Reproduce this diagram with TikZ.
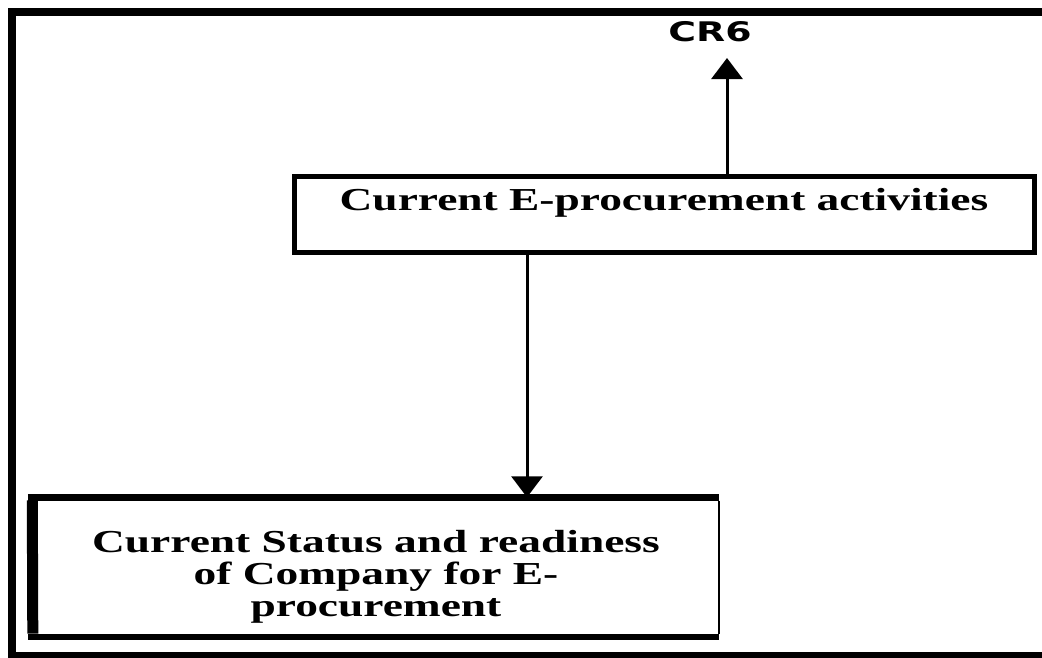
\documentclass[tikz,border=0pt]{standalone}
\usepackage{fontspec}
\usetikzlibrary{arrows.meta}
\newfontfamily\boxfont{Liberation Serif}[FakeStretch=1.42]
\newfontfamily\labelfont{DejaVu Sans}[FakeStretch=1.4]
\begin{document}
\begin{tikzpicture}[x=1pt,y=-1pt,
  boxtext/.style={font=\boxfont\bfseries\fontsize{32}{32}\selectfont, align=center, inner sep=0pt},
  arr/.style={line width=3pt, -{Triangle[width=31pt,length=21pt]}},
]
\clip (0,0) rectangle (1042,657);
\fill[white] (0,0) rectangle (1042,657);
% outer frame, running past the right and lower edges
\draw[line width=8pt] (12,12) rectangle (1080,656);

% upper box
\node[boxtext, draw, line width=5pt, minimum width=740pt, minimum height=76pt,
      text height=22pt, text depth=30pt] (topbox) at (664,214)
  {Current E-procurement activities};

% lower box: heavy left, top and bottom sides, hairline right side
\node[boxtext, minimum width=686pt, minimum height=139pt,
      text height=106pt, text depth=8pt] (botbox) at (376,567)
  {Current Status and readiness\\of Company for E-\\procurement};
\draw[line width=11pt] ([xshift=-0.5pt,yshift=-3pt]botbox.north west) -- ([yshift=3pt]botbox.south west);
\draw[line width=7pt] ([xshift=-5pt]botbox.north west) -- (botbox.north east);
\draw[line width=6pt] ([xshift=-5pt]botbox.south west) -- (botbox.south east);
\draw[line width=1.5pt] ([yshift=-3.5pt]botbox.north east) -- ([yshift=3pt]botbox.south east);

% label above the upper box
\node[font=\labelfont\bfseries\fontsize{27}{30}\selectfont, inner sep=0pt] (cr) at (710,32) {CR6};

% connectors
\coordinate (upx) at (727,0);
\coordinate (uptip) at (727,58);
\coordinate (dnx) at (527,0);
\draw[arr] (upx |- topbox.north) -- (uptip);
\draw[arr] (dnx |- topbox.south) -- (dnx |- botbox.north);
\end{tikzpicture}
\end{document}
